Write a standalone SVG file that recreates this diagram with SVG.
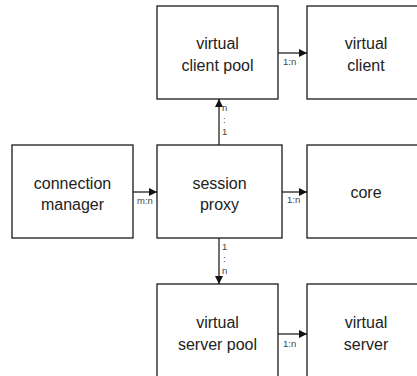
<svg xmlns="http://www.w3.org/2000/svg" width="417" height="376" viewBox="0 0 417 376">
<style>
.box{fill:#fff;stroke:#1a1a1a;stroke-width:1.3}
.t{font-family:"Liberation Sans",Arial,sans-serif;font-size:16px;fill:#222;text-anchor:middle}
.l{font-family:"Liberation Sans",Arial,sans-serif;font-size:9.5px;fill:#444}
.c{stroke:#111;stroke-width:1.2;fill:none;marker-end:url(#ah)}
</style>
<defs>
<marker id="ah" viewBox="0 0 8 8" refX="8" refY="4" markerWidth="8" markerHeight="8" markerUnits="userSpaceOnUse" orient="auto">
<path d="M0,0 L8,4 L0,8 Z" fill="#111"/>
</marker>
</defs>
<rect width="417" height="376" fill="#fff"/>
<g id="connectors">
<line class="c" x1="133" y1="192" x2="157" y2="192"/>
<text class="l" x="137" y="204">m:n</text>
<line class="c" x1="278" y1="53" x2="307" y2="53"/>
<text class="l" x="283" y="65">1:n</text>
<line class="c" x1="282" y1="192" x2="307" y2="192"/>
<text class="l" x="287" y="203">1:n</text>
<line class="c" x1="278" y1="334" x2="307" y2="334"/>
<text class="l" x="283" y="347">1:n</text>
<line class="c" x1="219" y1="145" x2="219" y2="99"/>
<text class="l" x="222" y="111">n</text>
<text class="l" x="223" y="123">:</text>
<text class="l" x="222" y="135">1</text>
<line class="c" x1="219" y1="238" x2="219" y2="284"/>
<text class="l" x="222" y="250">1</text>
<text class="l" x="223" y="262">:</text>
<text class="l" x="222" y="274">n</text>
</g>
<g id="connection-manager">
<rect class="box" x="12" y="145" width="121" height="93"/>
<text class="t" x="72.5" y="189">connection</text>
<text class="t" x="72.5" y="210">manager</text>
</g>
<g id="session-proxy">
<rect class="box" x="157" y="145" width="125" height="93"/>
<text class="t" x="219.5" y="189">session</text>
<text class="t" x="219.5" y="210">proxy</text>
</g>
<g id="virtual-client-pool">
<rect class="box" x="157" y="6" width="121" height="93"/>
<text class="t" x="217.5" y="49">virtual</text>
<text class="t" x="217.5" y="71">client pool</text>
</g>
<g id="virtual-client">
<rect class="box" x="307" y="6" width="121" height="93"/>
<text class="t" x="366" y="49">virtual</text>
<text class="t" x="366" y="71">client</text>
</g>
<g id="core">
<rect class="box" x="307" y="145" width="121" height="93"/>
<text class="t" x="366" y="198">core</text>
</g>
<g id="virtual-server-pool">
<rect class="box" x="157" y="284" width="121" height="93"/>
<text class="t" x="217.5" y="328">virtual</text>
<text class="t" x="217.5" y="350">server pool</text>
</g>
<g id="virtual-server">
<rect class="box" x="307" y="284" width="121" height="93"/>
<text class="t" x="366" y="328">virtual</text>
<text class="t" x="366" y="350">server</text>
</g>
</svg>
